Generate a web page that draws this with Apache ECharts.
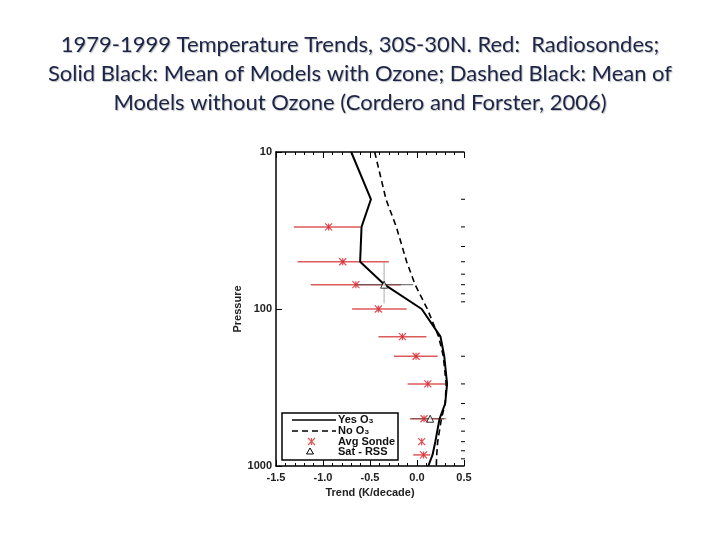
<!DOCTYPE html>
<html>
<head>
<meta charset="utf-8">
<script src="https://cdn.jsdelivr.net/npm/echarts@6/dist/echarts.min.js"></script>
<style>
  html, body { margin: 0; padding: 0; background: #ffffff; }
  #chart { width: 720px; height: 540px; }
</style>
</head>
<body>
<div id="chart"></div>
<script>
// ---- Data ----
const titleLines = [
  '1979-1999 Temperature Trends, 30S-30N. Red:  Radiosondes;',
  'Solid Black: Mean of Models with Ozone; Dashed Black: Mean of',
  'Models without Ozone (Cordero and Forster, 2006)'
];
const pressureLevels = [10, 20, 30, 50, 70, 100, 150, 200, 300, 400, 500, 700, 850, 1000];
const yesO3 = [-0.70, -0.49, -0.59, -0.605, -0.345, 0.05, 0.25, 0.29, 0.32, 0.30, 0.24, 0.195, 0.165, 0.12];
const noO3  = [-0.45, -0.33, -0.22, -0.11, -0.02, 0.11, 0.23, 0.28, 0.31, 0.30, 0.26, 0.22, 0.21, 0.205];

const sondeP  = [30, 50, 70, 100, 150, 200, 300, 500, 700, 850];
const sondeT  = [-0.94, -0.79, -0.65, -0.41, -0.155, -0.01, 0.115, 0.075, 0.05, 0.07];
const sondeLo = [-1.31, -1.27, -1.13, -0.69, -0.41, -0.245, -0.10, -0.075, 0.05, -0.04];
const sondeHi = [-0.60, -0.30, -0.17, -0.11, 0.10, 0.22, 0.32, 0.29, 0.05, 0.14];

const satP    = [70, 500];
const satT    = [-0.35, 0.14];
const satLo   = [-0.64, -0.06];
const satHi   = [-0.04, 0.31];
const satPTop = [50, 500];
const satPBot = [92, 500];

const xTickValues = [-1.5, -1.0, -0.5, 0.0, 0.5];
const yTickValues = [10, 100, 1000];
const rightMinorTicks = [20, 30, 40, 50, 60, 70, 80, 90, 200, 300, 400, 500, 600, 700, 800, 900];

const legendLabels = ['Yes O\u2083', 'No O\u2083', 'Avg Sonde', 'Sat - RSS'];
const xAxisTitle = 'Trend (K/decade)';
const yAxisTitle = 'Pressure';

// ---- Chart ----
const chart = echarts.init(document.getElementById('chart'));
const axisFont = { fontFamily: 'Liberation Sans, Arial, sans-serif', fontWeight: 'bold', fontSize: 11, color: '#222' };
const asterisk = 'path://M0,0L10,10M10,0L0,10M5,0L5,10';
const sondeColor = '#dd5a5a';

function hbar(color, width) {
  return function (params, api) {
    const a = api.coord([api.value(0), api.value(2)]);
    const b = api.coord([api.value(1), api.value(2)]);
    return { type: 'line', shape: { x1: a[0], y1: a[1], x2: b[0], y2: b[1] },
             style: { stroke: color, lineWidth: width } };
  };
}

const option = {
  backgroundColor: '#ffffff',
  animation: false,
  title: {
    text: titleLines.join('\n'),
    left: 'center',
    top: 25,
    textStyle: {
      fontFamily: 'Lato, "Open Sans", sans-serif',
      fontSize: 22,
      fontWeight: 'normal',
      lineHeight: 29,
      color: '#1c2548',
      textShadowColor: 'rgba(0,0,0,0.25)',
      textShadowOffsetX: 1,
      textShadowOffsetY: 1,
      textShadowBlur: 1
    }
  },
  grid: { left: 276, right: 256, top: 152, bottom: 74, containLabel: false },
  xAxis: [
    {
      type: 'value', position: 'bottom', min: -1.5, max: 0.5, interval: 0.5,
      name: xAxisTitle, nameLocation: 'middle', nameGap: 20,
      nameTextStyle: Object.assign({}, axisFont, { fontSize: 11 }),
      axisLine: { show: true, onZero: false, lineStyle: { color: '#000', width: 1.5 } },
      axisTick: { show: true, inside: true, length: 6, lineStyle: { color: '#000' } },
      minorTick: { show: true, splitNumber: 5, length: 3, lineStyle: { color: '#000' } },
      axisLabel: Object.assign({}, axisFont, { margin: 6, formatter: v => xTickValues.includes(+v.toFixed(1)) ? v.toFixed(1) : '' }),
      splitLine: { show: false }
    },
    {
      type: 'value', position: 'top', min: -1.5, max: 0.5, interval: 0.5,
      axisLine: { show: true, onZero: false, lineStyle: { color: '#000', width: 1.5 } },
      axisTick: { show: true, inside: true, length: 6, lineStyle: { color: '#000' } },
      minorTick: { show: true, splitNumber: 5, length: 3, lineStyle: { color: '#000' } },
      axisLabel: { show: false },
      splitLine: { show: false }
    }
  ],
  yAxis: [
    {
      type: 'log', logBase: 10, min: 10, max: 1000, inverse: true,
      name: yAxisTitle, nameLocation: 'middle', nameGap: 32, nameRotate: 90,
      nameTextStyle: Object.assign({}, axisFont, { fontSize: 11 }),
      axisLine: { show: true, onZero: false, lineStyle: { color: '#000', width: 1.5 } },
      axisTick: { show: true, inside: true, length: 6, lineStyle: { color: '#000' } },
      axisLabel: Object.assign({}, axisFont, { margin: 4, formatter: v => yTickValues.includes(Math.round(v)) ? String(Math.round(v)) : '' }),
      splitLine: { show: false }
    }
  ],
  graphic: [
    { type: 'rect', shape: { x: 282, y: 413, width: 116, height: 47 },
      style: { fill: '#fff', stroke: '#000', lineWidth: 1.5 }, z: 100 },
    { type: 'line', shape: { x1: 292, y1: 420, x2: 336, y2: 420 }, style: { stroke: '#000', lineWidth: 1.3 }, z: 101 },
    { type: 'line', shape: { x1: 292, y1: 431, x2: 336, y2: 431 }, style: { stroke: '#000', lineWidth: 1.3, lineDash: [6, 4] }, z: 101 },
    { type: 'group', z: 101, children: [
      { type: 'line', shape: { x1: 308, y1: 438, x2: 315, y2: 445 }, style: { stroke: sondeColor, lineWidth: 1.2 }, z: 101 },
      { type: 'line', shape: { x1: 315, y1: 438, x2: 308, y2: 445 }, style: { stroke: sondeColor, lineWidth: 1.2 }, z: 101 },
      { type: 'line', shape: { x1: 311.5, y1: 438, x2: 311.5, y2: 445 }, style: { stroke: sondeColor, lineWidth: 1.2 }, z: 101 }
    ]},
    { type: 'polygon', shape: { points: [[310, 448], [306.5, 454], [313.5, 454]] },
      style: { fill: 'none', stroke: '#000', lineWidth: 1 }, z: 101 },
    { type: 'text', x: 338, y: 420, z: 102, style: { text: legendLabels[0], font: 'bold 11px "Liberation Sans", Arial', fill: '#111', verticalAlign: 'middle' } },
    { type: 'text', x: 338, y: 431, z: 102, style: { text: legendLabels[1], font: 'bold 11px "Liberation Sans", Arial', fill: '#111', verticalAlign: 'middle' } },
    { type: 'text', x: 338, y: 442, z: 102, style: { text: legendLabels[2], font: 'bold 11px "Liberation Sans", Arial', fill: '#111', verticalAlign: 'middle' } },
    { type: 'text', x: 338, y: 452, z: 102, style: { text: legendLabels[3], font: 'bold 11px "Liberation Sans", Arial', fill: '#111', verticalAlign: 'middle' } }
  ],
  series: [
    {
      name: 'Right ticks', type: 'custom', xAxisIndex: 0, yAxisIndex: 0, silent: true,
      data: rightMinorTicks.map(p => [0.5, p]),
      encode: { x: 0, y: 1 },
      renderItem: function (params, api) {
        const c = api.coord([api.value(0), api.value(1)]);
        return { type: 'line', shape: { x1: c[0] - 3, y1: c[1], x2: c[0] + 1, y2: c[1] },
                 style: { stroke: '#000', lineWidth: 1 } };
      }
    },
    {
      name: 'Sonde bars', type: 'custom', xAxisIndex: 0, yAxisIndex: 0, silent: true,
      data: sondeP.map((p, i) => [sondeLo[i], sondeHi[i], p]),
      encode: { x: [0, 1], y: 2 },
      renderItem: hbar(sondeColor, 1.5), z: 3
    },
    {
      name: 'Sat bars', type: 'custom', xAxisIndex: 0, yAxisIndex: 0, silent: true,
      data: satP.map((p, i) => [satLo[i], satHi[i], p]),
      encode: { x: [0, 1], y: 2 },
      renderItem: hbar('rgba(80,80,80,0.75)', 1.2), z: 4
    },
    {
      name: 'Sat vertical bars', type: 'custom', xAxisIndex: 0, yAxisIndex: 0, silent: true,
      data: satT.map((t, i) => [t, satPTop[i], satPBot[i]]),
      encode: { x: 0, y: [1, 2] },
      renderItem: function (params, api) {
        const a = api.coord([api.value(0), api.value(1)]);
        const b = api.coord([api.value(0), api.value(2)]);
        return { type: 'line', shape: { x1: a[0], y1: a[1], x2: b[0], y2: b[1] },
                 style: { stroke: 'rgba(150,150,150,0.8)', lineWidth: 1 } };
      }, z: 4
    },
    {
      name: legendLabels[0], type: 'line', xAxisIndex: 0, yAxisIndex: 0,
      data: pressureLevels.map((p, i) => [yesO3[i], p]),
      symbol: 'none', lineStyle: { color: '#000', width: 2 }, z: 5
    },
    {
      name: legendLabels[1], type: 'line', xAxisIndex: 0, yAxisIndex: 0,
      data: pressureLevels.map((p, i) => [noO3[i], p]),
      symbol: 'none', lineStyle: { color: '#000', width: 1.6, type: [6, 4] }, z: 5
    },
    {
      name: legendLabels[2], type: 'scatter', xAxisIndex: 0, yAxisIndex: 0,
      data: sondeP.map((p, i) => [sondeT[i], p]),
      symbol: asterisk, symbolSize: 7,
      itemStyle: { color: 'none', borderColor: '#d81e2a', borderWidth: 1.2 }, z: 6
    },
    {
      name: legendLabels[3], type: 'scatter', xAxisIndex: 0, yAxisIndex: 0,
      data: satP.map((p, i) => [satT[i], p]),
      symbol: 'triangle', symbolSize: 7,
      itemStyle: { color: '#fff', borderColor: '#000', borderWidth: 1 }, z: 7
    }
  ]
};
chart.setOption(option);
</script>
</body>
</html>
